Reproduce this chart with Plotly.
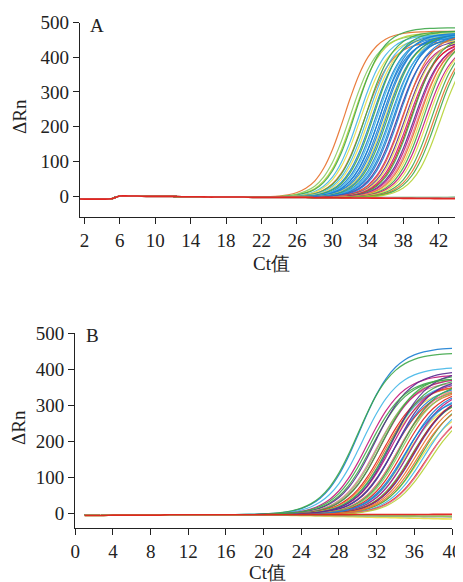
import numpy as np
import plotly.graph_objects as go

# ---------------- data ----------------
# Panel A: cycles 1..44
A_cycles = list(range(1, 45))
A_baseline = [-8, -9, -9, -9, -8, 0, 0, 0, -1, -1, -1, -1, -2, -2, -2, -3, -3, -3, -3, -3,
              -4, -4, -4, -4, -4, -4, -4, -5, -5, -5, -5, -5, -5, -5, -5, -5, -5, -5, -5, -5,
              -5, -5, -5, -5]
A_mid = [31.4, 32.0, 32.4, 32.6, 33.0, 33.2, 33.6, 33.8, 34.0, 34.2, 34.5, 34.7, 34.9, 35.1,
         35.3, 35.4, 35.6, 35.8, 35.9, 36.1, 36.3, 36.5, 36.7, 36.9, 37.1, 37.3, 37.5, 37.8,
         38.0, 38.2, 38.4, 38.6, 38.8, 39.0, 39.2, 39.4, 39.6, 39.8, 40.0, 40.3, 40.5, 40.8,
         41.2, 41.5, 41.8, 42.2]
A_plateau = [480, 470, 475, 490, 470, 460, 450, 480, 470, 465, 470, 480, 465, 470,
             460, 475, 465, 470, 455, 465, 470, 460, 470, 465, 475, 455, 465, 450,
             470, 455, 460, 450, 455, 470, 450, 455, 450, 460, 455, 465, 450, 455,
             460, 455, 460, 450]
A_flat_end = [-4, -6, -8]

# Panel B: cycles 1..40
B_cycles = list(range(1, 41))
B_baseline = [-6, -6, -6, -5, -5, -5, -5, -5, -5, -4, -4, -4, -4, -4, -4, -4, -4, -4, -4, -4,
              -4, -4, -4, -4, -4, -4, -4, -4, -4, -4, -4, -4, -4, -4, -4, -4, -4, -4, -4, -4]
B_mid = [30.2, 30.5, 30.0, 31.0, 31.5, 31.8, 32.0, 32.2, 32.4, 32.5, 32.7, 32.9, 33.0,
         33.2, 33.3, 33.5, 33.7, 33.8, 34.0, 34.2, 34.3, 34.5, 34.6, 34.8, 35.0, 35.2,
         35.4, 35.5, 35.7, 35.9, 36.0, 36.2, 36.5, 36.7, 37.0, 37.2, 37.4, 37.6, 33.6,
         34.9, 31.2, 36.4]
B_plateau = [465, 410, 450, 390, 380, 400, 370, 380, 380, 390, 360, 360, 350,
             370, 380, 370, 350, 360, 380, 350, 360, 370, 360, 350, 320, 350,
             340, 350, 330, 340, 340, 330, 300, 330, 320, 300, 310, 300, 400,
             330, 380, 320]
B_flat_end = [-16, -10, -8, -3]

# ---------------- styles ----------------
PAL = {
    "orange": "#E8702A", "green": "#3FA84A", "lgreen": "#8ACB62", "ygreen": "#B6D334",
    "yellow": "#E9DF4A", "lblue": "#45B7E8", "blue": "#1B7FD3", "purple": "#5B2C91",
    "magenta": "#C4197D", "red": "#E3211C", "pink": "#E47C9B", "gray": "#9A9A9A",
}
A_colors = ["orange", "lgreen", "ygreen", "green", "lblue", "yellow", "orange", "green",
            "lblue", "yellow", "blue", "green", "blue", "lblue", "blue", "blue", "blue",
            "blue", "yellow", "blue", "green", "blue", "lblue", "blue", "blue", "purple",
            "blue", "magenta", "orange", "purple", "yellow", "magenta", "red", "green",
            "purple", "magenta", "pink", "orange", "yellow", "green", "magenta", "yellow",
            "green", "orange", "green", "ygreen"]
A_flat_colors = ["green", "pink", "red"]
B_colors = ["blue", "lblue", "green", "magenta", "green", "purple", "pink", "lgreen",
            "magenta", "green", "red", "orange", "yellow", "lblue", "green", "magenta",
            "red", "blue", "purple", "orange", "pink", "green", "lgreen", "red", "yellow",
            "blue", "lblue", "magenta", "green", "red", "purple", "orange", "yellow",
            "green", "lblue", "red", "pink", "ygreen", "purple", "blue", "green", "orange"]
B_flat_colors = ["yellow", "gray", "lgreen", "red"]

A_SLOPE = 1.55
B_SLOPE = 1.9

FONT = "Liberation Serif, Times New Roman, serif"
fig = go.Figure()


def add_curves(cycles, base, mids, plats, colors, slope, xa, ya):
    c = np.array(cycles, dtype=float)
    b = np.array(base, dtype=float)
    for m, p, col in zip(mids, plats, colors):
        y = b + p / (1.0 + np.exp(-(c - m) / slope))
        fig.add_trace(go.Scatter(x=c, y=y, mode="lines", xaxis=xa, yaxis=ya,
                                 line=dict(color=PAL[col], width=1.2, shape="spline"),
                                 opacity=0.9, showlegend=False, hoverinfo="skip"))


def add_flat(cycles, base, ends, colors, start, xa, ya):
    c = np.array(cycles, dtype=float)
    b = np.array(base, dtype=float)
    n = c[-1] - start
    for e, col in zip(ends, colors):
        y = b + (e - b[-1]) * np.clip((c - start) / n, 0, 1)
        fig.add_trace(go.Scatter(x=c, y=y, mode="lines", xaxis=xa, yaxis=ya,
                                 line=dict(color=PAL[col], width=1.6, shape="spline"),
                                 opacity=0.95, showlegend=False, hoverinfo="skip"))


add_curves(A_cycles, A_baseline, A_mid, A_plateau, A_colors, A_SLOPE, "x", "y")
add_flat(A_cycles, A_baseline, A_flat_end, A_flat_colors, 30, "x", "y")
add_curves(B_cycles, B_baseline, B_mid, B_plateau, B_colors, B_SLOPE, "x2", "y2")
add_flat(B_cycles, B_baseline, B_flat_end, B_flat_colors, 20, "x2", "y2")

# the page body has an 8px default margin: size the figure to fit the window
OFF = 8
W, H = 463 - OFF, 582 - OFF


def fx(px):
    return (px - OFF) / W


def fy(py):
    return 1 - (py - OFF) / H


axis_common = dict(showline=True, linecolor="#222", linewidth=1.3, ticks="outside",
                   ticklen=6, tickwidth=1.2, tickcolor="#222", showgrid=False,
                   zeroline=False, automargin=False,
                   tickfont=dict(family=FONT, size=19, color="#222"))

fig.update_layout(
    template="none",
    width=W, height=H, margin=dict(l=0, r=0, t=0, b=0, pad=0),
    paper_bgcolor="white", plot_bgcolor="white",
    xaxis=dict(domain=[fx(80), fx(457)], range=[1.5, 44.07],
               tickvals=list(range(2, 43, 4)), anchor="y", **axis_common),
    yaxis=dict(domain=[fy(216.7), fy(22.5)], range=[-59.6, 500],
               tickvals=[0, 100, 200, 300, 400, 500], anchor="x", **axis_common),
    xaxis2=dict(domain=[fx(75.3), fx(452)], range=[0, 40],
                tickvals=list(range(0, 41, 4)), anchor="y2", **axis_common),
    yaxis2=dict(domain=[fy(527.7), fy(333.3)], range=[-40, 500],
                tickvals=[0, 100, 200, 300, 400, 500], anchor="x2", **axis_common),
)

tfont = dict(family=FONT, size=19, color="#222")
ann = [
    dict(text="A", x=fx(97), y=fy(26)),
    dict(text="B", x=fx(92), y=fy(335)),
    dict(text="Ct值", x=fx(271), y=fy(263)),
    dict(text="Ct值", x=fx(267), y=fy(572)),
    dict(text="ΔRn", x=fx(19), y=fy(117), textangle=-90),
    dict(text="ΔRn", x=fx(18), y=fy(428), textangle=-90),
]
for a in ann:
    fig.add_annotation(xref="paper", yref="paper", showarrow=False,
                       xanchor="center", yanchor="middle", font=tfont, **a)

fig.write_html("out.html")
